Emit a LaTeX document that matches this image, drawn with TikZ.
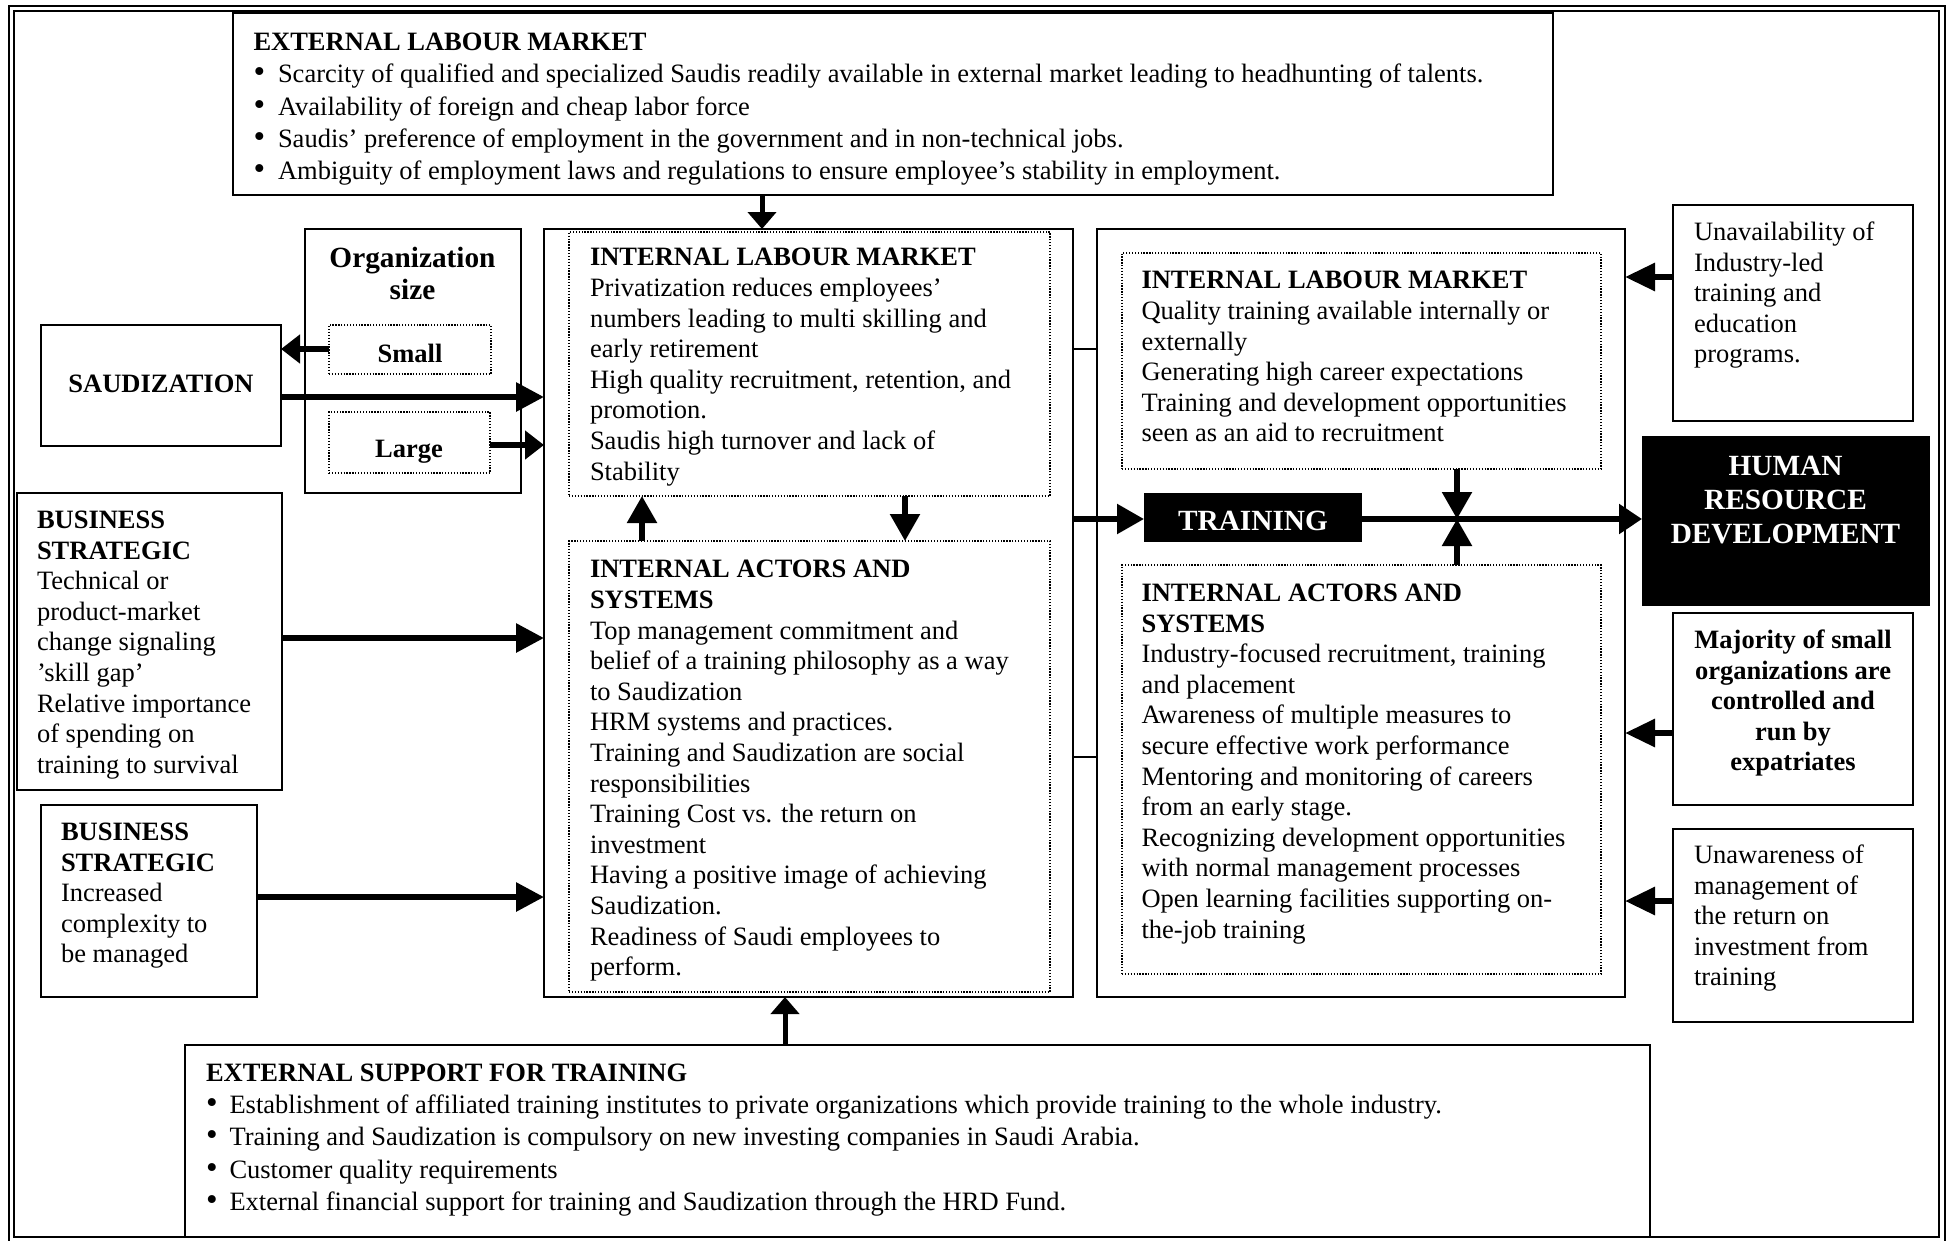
\documentclass[tikz,border=0pt]{standalone}
\usepackage{fontspec}
\usepackage{graphicx}
\setmainfont{Liberation Serif}
\usetikzlibrary{arrows.meta}
\newcommand\fA{\fontsize{26.5}{30.6}\selectfont}
\newcommand\fE{\fontsize{26.5}{32.3}\selectfont}
\newcommand\fB{\fontsize{29.3}{32}\selectfont}
\newcommand\fH{\fontsize{29.3}{34}\selectfont}
\newcommand\fF{\fontsize{26.5}{32.3}\selectfont}
\newcommand\bul[1]{\makebox[#1][l]{\scalebox{1.25}{\textbullet}}}
\newcommand\bx[6]{\node[#1, minimum width={#4-#2}, minimum height={#5-#3}] (#6) at (#2,#3) {};}
\begin{document}
\begin{tikzpicture}[x=1pt,y=-1pt,
  box/.style={draw, line width=2pt, inner sep=0pt, outer sep=0pt, anchor=north west},
  dbox/.style={draw, line width=1.3pt, dash pattern=on 1.3pt off 1.6pt, inner sep=0pt, outer sep=0pt, anchor=north west},
  blk/.style={fill=black, inner sep=0pt, outer sep=0pt, anchor=north west},
  txt/.style={anchor=north west, inner sep=0pt, outer sep=0pt, align=left, font=\fA},
  ctxt/.style={anchor=north, inner sep=0pt, outer sep=0pt, align=center, font=\fA\bfseries},
  lbl/.style={anchor=base, inner sep=0pt, outer sep=0pt, font=\fA\bfseries},
  arA/.style={line width=6pt, -{Triangle[length=28pt,width=28pt]}},
  arB/.style={line width=6pt, -{Triangle[length=19pt,width=28pt]}},
  arC/.style={line width=5pt, -{Triangle[length=17pt,width=28pt]}},
  arD/.style={line width=5.5pt, -{Triangle[length=27pt,width=29pt]}},
  arE/.style={line width=6pt, -{Triangle[length=30pt,width=27pt]}},
  thin/.style={line width=2pt},
  frame/.style={line width=2.5pt}]
\useasboundingbox (0,0) rectangle (1948,1240);
\fill[white] (0,0) rectangle (1948,1240);
% double frame
\draw[frame] (9,6) rectangle (1945,1243);
\draw[frame] (14,11) rectangle (1939,1237);

% boxes
\bx{box}{233}{13}{1553}{195}{elm}
\bx{box}{305}{229}{521}{493}{org}
\bx{dbox}{329}{325}{491}{374}{small}
\bx{dbox}{329}{412}{490}{473}{large}
\bx{box}{41}{325}{281}{446}{saud}
\bx{box}{17}{493}{282}{790}{bsa}
\bx{box}{41}{805}{257}{997}{bsb}
\bx{box}{544}{229}{1073}{997}{mid}
\bx{dbox}{569}{232}{1050}{496}{milm}
\bx{dbox}{569}{541}{1050}{992}{mias}
\bx{box}{1097}{229}{1625}{997}{rgt}
\bx{dbox}{1122}{253}{1601}{469}{rilm}
\bx{dbox}{1122}{565}{1601}{974}{rias}
\bx{blk}{1144}{493}{1362}{542}{train}
\bx{blk}{1642}{436}{1930}{606}{hrd}
\bx{box}{1673}{205}{1913}{421}{unav}
\bx{box}{1673}{613}{1913}{805}{major}
\bx{box}{1673}{829}{1913}{1022}{unaw}
\bx{box}{185}{1045}{1650}{1237}{esf}

% texts
\node[txt, font=\fE] (elmT) at (253.5,28) {\strut\textbf{EXTERNAL LABOUR MARKET}\\
\bul{24.5pt}Scarcity of qualified and specialized Saudis readily available in external market leading to headhunting of talents.\\
\bul{24.5pt}Availability of foreign and cheap labor force\\
\bul{24.5pt}Saudis’ preference of employment in the government and in non-technical jobs.\\
\bul{24.5pt}Ambiguity of employment laws and regulations to ensure employee’s stability in employment.};

\node[anchor=north, inner sep=0pt, align=center, font=\fB\bfseries] (orgT) at (412.5,245.3) {\strut Organization\\size};
\node[lbl] (smallT) at (410,362) {Small};
\node[lbl] (largeT) at (409,457) {Large};
\node[lbl] (saudT) at (161,392) {SAUDIZATION};

\node[txt] (bsaT) at (37,507) {\strut\textbf{BUSINESS}\\\textbf{STRATEGIC}\\Technical or\\product-market\\change signaling\\’skill gap’\\Relative importance\\of spending on\\training to survival};
\node[txt] (bsbT) at (61,819) {\strut\textbf{BUSINESS}\\\textbf{STRATEGIC}\\Increased\\complexity to\\be managed};

\node[txt] (milmT) at (590,244.5) {\strut\textbf{INTERNAL LABOUR MARKET}\\Privatization reduces employees’\\numbers leading to multi skilling and\\early retirement\\High quality recruitment, retention, and\\promotion.\\Saudis high turnover and lack of\\Stability};
\node[txt] (miasT) at (590,556.5) {\strut\textbf{INTERNAL ACTORS AND}\\\textbf{SYSTEMS}\\Top management commitment and\\belief of a training philosophy as a way\\to Saudization\\HRM systems and practices.\\Training and Saudization are social\\responsibilities\\Training Cost vs. the return on\\investment\\Having a positive image of achieving\\Saudization.\\Readiness of Saudi employees to\\perform.};

\node[txt] (rilmT) at (1141.5,267.5) {\strut\textbf{INTERNAL LABOUR MARKET}\\Quality training available internally or\\externally\\Generating high career expectations\\Training and development opportunities\\seen as an aid to recruitment};
\node[txt] (riasT) at (1141.5,580) {\strut\textbf{INTERNAL ACTORS AND}\\\textbf{SYSTEMS}\\Industry-focused recruitment, training\\and placement\\Awareness of multiple measures to\\secure effective work performance\\Mentoring and monitoring of careers\\from an early stage.\\Recognizing development opportunities\\with normal management processes\\Open learning facilities supporting on-\\the-job training};

\node[anchor=base, inner sep=0pt, font=\fB\bfseries, text=white] (trainT) at (1253,530) {TRAINING};
\node[anchor=north, inner sep=0pt, align=center, font=\fH\bfseries, text=white] (hrdT) at (1785.5,451.2) {\strut HUMAN\\RESOURCE\\DEVELOPMENT};

\node[txt] (unavT) at (1694,219) {\strut Unavailability of\\Industry-led\\training and\\education\\programs.};
\node[ctxt] (majorT) at (1793,627) {\strut Majority of small\\organizations are\\controlled and\\run by\\expatriates};
\node[txt] (unawT) at (1694,842) {\strut Unawareness of\\management of\\the return on\\investment from\\training};

\node[txt, font=\fF] (esfT) at (206,1058.5) {\strut\textbf{EXTERNAL SUPPORT FOR TRAINING}\\
\bul{23.5pt}Establishment of affiliated training institutes to private organizations which provide training to the whole industry.\\
\bul{23.5pt}Training and Saudization is compulsory on new investing companies in Saudi Arabia.\\
\bul{23.5pt}Customer quality requirements\\
\bul{23.5pt}External financial support for training and Saudization through the HRD Fund.};

% connectors
\draw[arC] (762,0 |- elm.south) -- (762,0 |- mid.north);
\draw[arB] (small.west |- 0,349) -- (saud.east |- 0,349);
\draw[arA] (saud.east |- 0,397) -- (mid.west |- 0,397);
\draw[arB] (large.east |- 0,445) -- (mid.west |- 0,445);
\draw[arA] (bsa.east |- 0,638) -- (mid.west |- 0,638);
\draw[arA] (bsb.east |- 0,897) -- (mid.west |- 0,897);
\draw[arC] (785,0 |- esf.north) -- (785,0 |- mid.south);
\draw[arD] (642,0 |- mias.north) -- (642,0 |- milm.south);
\draw[arD] (905,0 |- milm.south) -- (905,0 |- mias.north);
\draw[arD] (mid.east |- 0,519) -- (train.west |- 0,519);
\draw[line width=5.5pt, -{Triangle[length=23pt,width=29pt]}] (train.east |- 0,519) -- (hrd.west |- 0,519);
\draw[arD] (1457,0 |- rilm.south) -- (1457,519);
\draw[arD] (1457,0 |- rias.north) -- (1457,519);
\draw[thin] (mid.east |- 0,349) -- (rgt.west |- 0,349);
\draw[thin] (mid.east |- 0,757) -- (rgt.west |- 0,757);
\draw[arE] (unav.west |- 0,277) -- (rgt.east |- 0,277);
\draw[arE] (major.west |- 0,733) -- (rgt.east |- 0,733);
\draw[arE] (unaw.west |- 0,901) -- (rgt.east |- 0,901);
\end{tikzpicture}
\end{document}
